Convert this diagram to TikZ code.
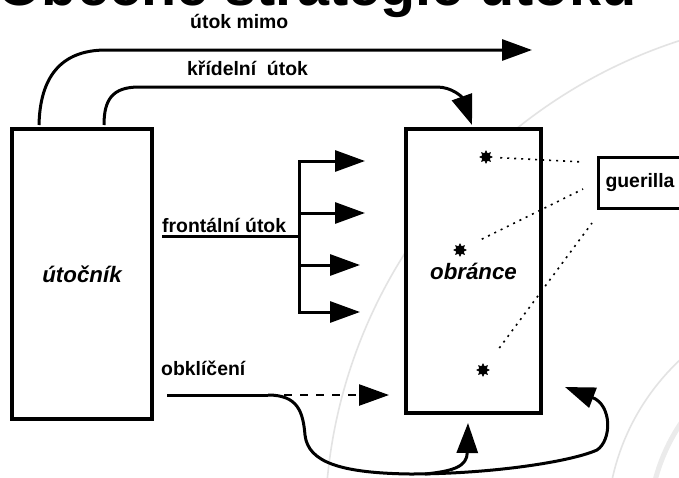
\documentclass[tikz,border=0pt]{standalone}
\usepackage{fontspec}
\setmainfont{Liberation Sans}
\usetikzlibrary{arrows.meta,shapes.geometric}

\newcommand\lblfont{\fontsize{19.4}{23}\selectfont\bfseries}
\newcommand\boxfont{\fontsize{22.3}{27}\selectfont\bfseries\itshape}
\newcommand\headfont{\fontsize{57.5}{60}\selectfont\bfseries}

\tikzset{
  block/.style={draw, line width=3.5pt, fill=white, inner sep=0pt, font=\boxfont},
  conn/.style={line width=3pt},
  bigtip/.style={-{Triangle[length=30pt,width=21pt]}},
  lbl/.style={font=\lblfont, inner sep=0pt, anchor=base west},
  spark/.style={star, star points=8, star point ratio=1.7, fill=black, draw=black,
                line width=0.8pt, inner sep=0pt, minimum size=12pt},
  link/.style={line width=1.6pt, dash pattern=on 2pt off 5pt},
  ring/.style={draw=black!11, line width=1.6pt}
}

\begin{document}
\begin{tikzpicture}[x=1pt, y=-1pt]
  \useasboundingbox (0,0) rectangle (679,477);
  \clip (0,0) rectangle (679,477);
  \fill[white] (0,0) rectangle (679,477);

  % faint template rings in the background
  \draw[ring] (837,528) circle[radius=512];
  \draw[ring] (837,528) circle[radius=230];
  \draw[ring, draw=black!8, line width=5pt] (837,528) circle[radius=188];

  % heading, partly above the page
  \node[anchor=base west, inner sep=0pt, font=\headfont] (title) at (-3,5) {Obecné strategie útoku};

  % main blocks
  \node[block, minimum width=140pt, minimum height=290pt] (att) at (82,274) {útočník};
  \node[block, minimum width=135pt, minimum height=284pt] (def) at (473.5,271) {obránce};
  \node[block, line width=3pt, font=\lblfont, anchor=west, minimum height=51pt,
        minimum width=92pt, text width=78pt, align=left] (gue) at (597,182.5) {guerilla};

  % guerrilla cells inside the defender
  \node[spark] (s1) at (486,157) {};
  \node[spark] (s2) at (460,250) {};
  \node[spark] (s3) at (483,370) {};

  % attack past the defender
  \coordinate (om0) at (39,125);
  \coordinate (om1) at (532,50);
  \draw[conn, bigtip] (om0) .. controls (40,78) and (60,50) .. (106,50) -- (om1);
  \node[lbl] (omlbl) at (190,28) {útok mimo};

  % flanking attack
  \coordinate (kr0) at (104,125);
  \coordinate (kr1) at (472,125);
  \draw[conn, bigtip] (kr0) .. controls (104,100) and (112,87) .. (139,87) -- (437,87)
        .. controls (452,87) and (462,97) .. (kr1);
  \node[lbl] (krlbl) at (187,75) {křídelní~~útok};

  % frontal attack
  \coordinate (fr0) at (162,236);
  \coordinate (frj) at (299,236);
  \coordinate (fb1) at (299,161);
  \coordinate (fb2) at (299,213);
  \coordinate (fb3) at (299,265);
  \coordinate (fb4) at (299,312);
  \coordinate (ft1) at (365,161);
  \coordinate (ft2) at (365,213);
  \coordinate (ft3) at (360,265);
  \coordinate (ft4) at (360,312);
  \draw[conn] (fr0) -- (frj);
  \draw[conn, line cap=rect] (fb1) -- (fb4);
  \foreach \i in {1,2,3,4} \draw[conn, bigtip] (fb\i) -- (ft\i);
  \node[lbl] (frlbl) at (162,232) {frontální útok};

  % encirclement
  \coordinate (ob0) at (167,395);
  \coordinate (obj) at (268,395);
  \coordinate (obt) at (389,395);
  \coordinate (obm) at (425,474);
  \coordinate (obu) at (468,423);
  \coordinate (obr) at (565,387);
  \draw[conn] (ob0) -- (obj);
  \draw[line width=2.5pt, dash pattern=on 8pt off 8pt, bigtip] (obj) -- (obt);
  \draw[conn, bigtip] (obj) .. controls (298,395) and (303,412) .. (305,435)
        .. controls (308,462) and (340,473) .. (410,474)
        .. controls (490,474) and (570,462) .. (597,450)
        .. controls (612,440) and (612,405) .. (obr);
  \draw[conn, bigtip] (obm) .. controls (455,471) and (467,466) .. (obu);
  \node[lbl] (oblbl) at (161,375) {obklíčení};

  % guerrilla links
  \coordinate (g1) at (583,162);
  \coordinate (g2) at (583,189);
  \coordinate (g3) at (592,223);
  \draw[link, shorten <=8pt] (s1) -- (g1);
  \draw[link, shorten <=20pt] (s2) -- (g2);
  \draw[link, shorten <=22pt] (s3) -- (g3);
\end{tikzpicture}
\end{document}
